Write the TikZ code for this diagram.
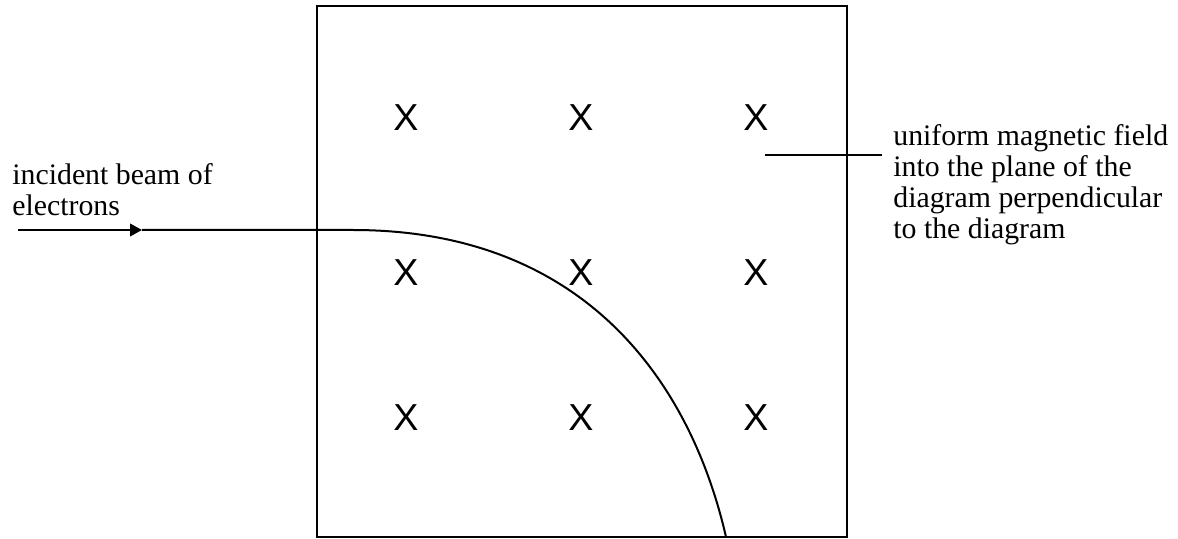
\documentclass[tikz,border=0pt]{standalone}
\usepackage{fontspec}
\setmainfont{Liberation Serif}
\newfontfamily\marksans{Liberation Sans}
\usetikzlibrary{arrows.meta}
\tikzset{
    % Field region and beam styles
    field box/.style={
        draw=black,
        line width=1.2pt
    },
    beam/.style={
        draw=black,
        line width=1pt
    },
    arrow style/.style={
        beam,
        -{Triangle[length=6pt, width=6.3pt]}
    },
    lead line/.style={
        draw=black,
        line width=1pt
    },
    field mark/.style={
        inner sep=0pt,
        font=\marksans\fontsize{18.8}{20}\selectfont
    },
    label text/.style={
        align=left,
        anchor=north west,
        inner sep=0pt,
        font=\fontsize{14.9}{15.6}\selectfont
    }
}

\begin{document}
\begin{tikzpicture}[x=0.5pt, y=-0.5pt]
        \useasboundingbox (0,0) rectangle (1178,539);

        % Field region
        \draw[field box] (317,6) rectangle (847,537);

        % Field marks
        \foreach \row/\y in {1/118, 2/273, 3/418}
            \foreach \col/\x in {1/406, 2/581, 3/756}
                \node[field mark] (mark\row\col) at (\x,\y) {X};

        % Beam
        \coordinate (source) at (18,230);
        \coordinate (tip) at (142,230);
        \coordinate (bend) at (353,230);
        \coordinate (exit) at (726,537);
        \draw[arrow style] (source) -- (tip);
        \draw[beam] (tip) -- (bend) .. controls (583,230) and (690,380) .. (exit);

        % Labels
        \node[label text] (beam label) at (12,163) {incident beam of\\electrons};
        \node[label text] (field label) at (893,124) {uniform magnetic field\\into the plane of the\\diagram perpendicular\\to the diagram};
        \coordinate (lead start) at (765,155);
        \coordinate (lead end) at (882,155);
        \draw[lead line] (lead start) -- (lead end);
    \end{tikzpicture}
\end{document}
